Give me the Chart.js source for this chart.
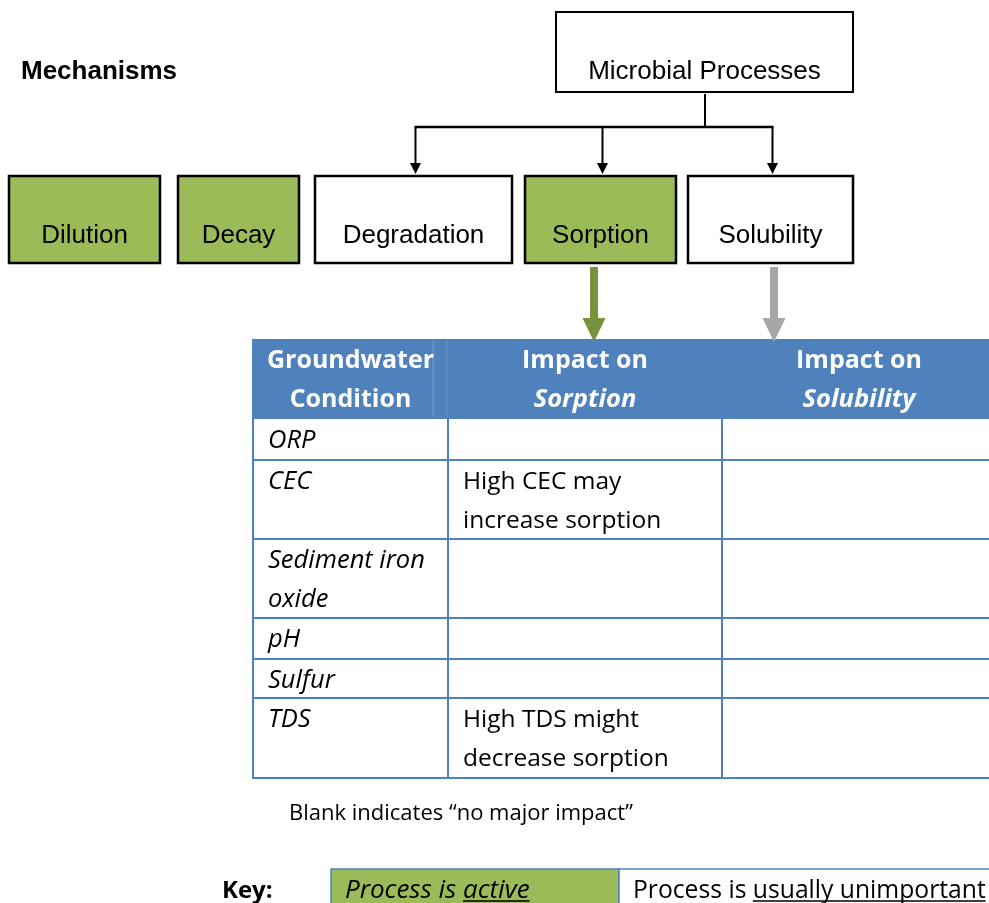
<!DOCTYPE html>
<html>
<head>
<meta charset="utf-8">
<script src="https://cdn.jsdelivr.net/npm/chart.js@4/dist/chart.umd.min.js"></script>
<style>
  html, body { margin: 0; padding: 0; background: #fff; }
  #wrap { width: 989px; height: 903px; }
</style>
</head>
<body>
<div id="wrap"><canvas id="myChart" width="989" height="903"></canvas></div>
<script>
// Data for the diagram
const title = 'Mechanisms';
const mechanisms = ['Dilution', 'Decay', 'Degradation', 'Sorption', 'Solubility'];
const mechanismActive = [true, true, false, true, false];
const parentProcess = 'Microbial Processes';
const microbialTargets = ['Degradation', 'Sorption', 'Solubility'];
const tableHeaders = [['Groundwater', 'Condition'], ['Impact on', 'Sorption'], ['Impact on', 'Solubility']];
const conditions = [['ORP'], ['CEC'], ['Sediment iron', 'oxide'], ['pH'], ['Sulfur'], ['TDS']];
const sorptionImpact = [[], ['High CEC may', 'increase sorption'], [], [], [], ['High TDS might', 'decrease sorption']];
const solubilityImpact = [[], [], [], [], [], []];
const footnote = 'Blank indicates \u201cno major impact\u201d';
const keyTitle = 'Key:';
const keyLabels = [['Process is ', 'active'], ['Process is ', 'usually unimportant']];
const keyActive = [true, false];

// Layout, in the units of the hidden x/y scales (0..989, 0..903)
const layout = {
  boxTop: 176, boxBottom: 263,
  boxX: [[9, 160], [178, 299], [315, 512], [525, 676], [688, 853]],
  parentBox: [556, 12, 853, 92],
  stemX: 705, branchY: 127, arrowTip: 174,
  fatArrowX: [594, 774], fatArrowTop: 267, fatArrowTip: 342,
  colEdges: [253, 448, 722, 996],
  headerTop: 339, headerBottom: 419,
  rowEdges: [419, 460, 539, 618, 659, 698, 778],
  keyTop: 869, keyEdges: [331, 619, 996]
};

const green = '#9BBB59';
const blue = '#4F81BD';
const arial = '"Liberation Sans", Arial, sans-serif';
const segoe = '"Open Sans", "Noto Sans", sans-serif';

const diagramPlugin = {
  id: 'diagram',
  afterDraw(chart) {
    const ctx = chart.ctx;
    const X = v => chart.scales.x.getPixelForValue(v);
    const Y = v => chart.scales.y.getPixelForValue(v);

    function box(x0, y0, x1, y1, fill, stroke, lw) {
      if (fill) {
        ctx.fillStyle = fill;
        ctx.fillRect(X(x0), Y(y0), X(x1) - X(x0), Y(y1) - Y(y0));
      }
      if (stroke) {
        ctx.strokeStyle = stroke;
        ctx.lineWidth = lw;
        ctx.strokeRect(X(x0), Y(y0), X(x1) - X(x0), Y(y1) - Y(y0));
      }
    }
    function line(x0, y0, x1, y1, color, lw) {
      ctx.strokeStyle = color;
      ctx.lineWidth = lw;
      ctx.beginPath();
      ctx.moveTo(X(x0), Y(y0));
      ctx.lineTo(X(x1), Y(y1));
      ctx.stroke();
    }
    function text(str, x, y, font, color, align) {
      ctx.font = font;
      ctx.fillStyle = color;
      ctx.textAlign = align || 'left';
      ctx.textBaseline = 'alphabetic';
      ctx.fillText(str, X(x), Y(y));
      return ctx.measureText(str).width;
    }
    function thinArrow(x, y0, tip) {
      line(x, y0, x, tip - 9, '#000', 2);
      ctx.fillStyle = '#000';
      ctx.beginPath();
      ctx.moveTo(X(x - 5.5), Y(tip - 11));
      ctx.lineTo(X(x + 5.5), Y(tip - 11));
      ctx.lineTo(X(x), Y(tip));
      ctx.closePath();
      ctx.fill();
    }
    function fatArrow(x, top, tip, color) {
      const shaft = 4, head = 11.5, headLen = 24;
      ctx.fillStyle = color;
      ctx.beginPath();
      ctx.moveTo(X(x - shaft), Y(top));
      ctx.lineTo(X(x + shaft), Y(top));
      ctx.lineTo(X(x + shaft), Y(tip - headLen));
      ctx.lineTo(X(x + head), Y(tip - headLen));
      ctx.lineTo(X(x), Y(tip));
      ctx.lineTo(X(x - head), Y(tip - headLen));
      ctx.lineTo(X(x - shaft), Y(tip - headLen));
      ctx.closePath();
      ctx.fill();
    }

    ctx.save();

    // Title
    text(title, 21, 79, 'bold 26px ' + arial, '#000');

    // Parent box
    const pb = layout.parentBox;
    box(pb[0], pb[1], pb[2], pb[3], '#fff', '#000', 2);
    text(parentProcess, (pb[0] + pb[2]) / 2, 79, '26px ' + arial, '#000', 'center');

    // Mechanism boxes
    mechanisms.forEach((m, i) => {
      const [x0, x1] = layout.boxX[i];
      box(x0, layout.boxTop, x1, layout.boxBottom, mechanismActive[i] ? green : '#fff', '#000', 2.5);
      text(m, (x0 + x1) / 2, 243, '26px ' + arial, '#000', 'center');
    });

    // Connector from Microbial Processes to its targets
    const targetX = microbialTargets.map(t => {
      const [x0, x1] = layout.boxX[mechanisms.indexOf(t)];
      return (x0 + x1) / 2 + 2;
    });
    line(layout.stemX, pb[3] + 2, layout.stemX, layout.branchY, '#000', 2);
    line(targetX[0] - 1, layout.branchY, targetX[targetX.length - 1] + 1, layout.branchY, '#000', 2.5);
    targetX.forEach(x => thinArrow(x, layout.branchY, layout.arrowTip));

    // Table header
    const ce = layout.colEdges;
    box(ce[0], layout.headerTop, ce[3], layout.headerBottom, blue);
    line(433, layout.headerTop + 2, 433, layout.headerBottom - 2, 'rgba(255,255,255,0.2)', 1);
    line(447, layout.headerTop + 2, 447, layout.headerBottom - 2, 'rgba(255,255,255,0.15)', 1);
    tableHeaders.forEach((h, c) => {
      const cx = (ce[c] + ce[c + 1]) / 2;
      h.forEach((ln, k) => {
        const it = mechanisms.includes(ln) ? 'italic bold 25.5px ' : 'bold 25px ';
        text(ln, cx, 368 + k * 39, it + segoe, '#fff', 'center');
      });
    });

    // Fat arrows from mechanisms to table columns
    tableHeaders.slice(1).forEach((h, k) => {
      const active = mechanismActive[mechanisms.indexOf(h[1])];
      fatArrow(layout.fatArrowX[k], layout.fatArrowTop, layout.fatArrowTip, active ? '#77933C' : '#A6A6A6');
    });

    // Table body
    const re = layout.rowEdges;
    const columns = [conditions, sorptionImpact, solubilityImpact];
    conditions.forEach((_, r) => {
      columns.forEach((col, c) => {
        const font = c === 0 ? 'italic 25.5px ' : '24.5px ';
        col[r].forEach((ln, k) => {
          text(ln, ce[c] + 15, re[r] + 29 + k * 39, font + segoe, '#000');
        });
      });
    });
    re.slice(1).forEach(y => line(ce[0], y, ce[3], y, blue, 2));
    ce.slice(0, 3).forEach(x => line(x, re[0], x, re[re.length - 1] + 1, blue, 2));
    line(ce[0], layout.headerTop, ce[0], re[0], blue, 2);

    // Footnote
    text(footnote, 289, 820, '22px ' + segoe, '#000');

    // Key
    text(keyTitle, 222, 898, 'bold 24px ' + segoe, '#000');
    const ke = layout.keyEdges;
    keyLabels.forEach((lab, i) => {
      box(ke[i], layout.keyTop, ke[i + 1], 920, keyActive[i] ? green : '#fff', blue, 1.5);
      const font = (keyActive[i] ? 'italic 26px ' : '24.7px ') + segoe;
      const x0 = ke[i] + 14;
      const w0 = text(lab[0], x0, 898, font, '#000');
      const w1 = text(lab[1], x0 + w0, 898, font, '#000');
      line(x0 + w0, 901, x0 + w0 + w1, 901, '#000', 1.5);
    });

    ctx.restore();
  }
};

function createChart() {
  const ctx = document.getElementById('myChart').getContext('2d');
  new Chart(ctx, {
    type: 'scatter',
    data: { datasets: [{ data: [] }] },
    options: {
      responsive: false,
      animation: false,
      events: [],
      layout: { padding: 0 },
      plugins: { legend: { display: false }, tooltip: { enabled: false } },
      scales: {
        x: { type: 'linear', min: 0, max: 989, display: false },
        y: { type: 'linear', min: 0, max: 903, reverse: true, display: false }
      }
    },
    plugins: [diagramPlugin]
  });
}

createChart();
</script>
</body>
</html>
